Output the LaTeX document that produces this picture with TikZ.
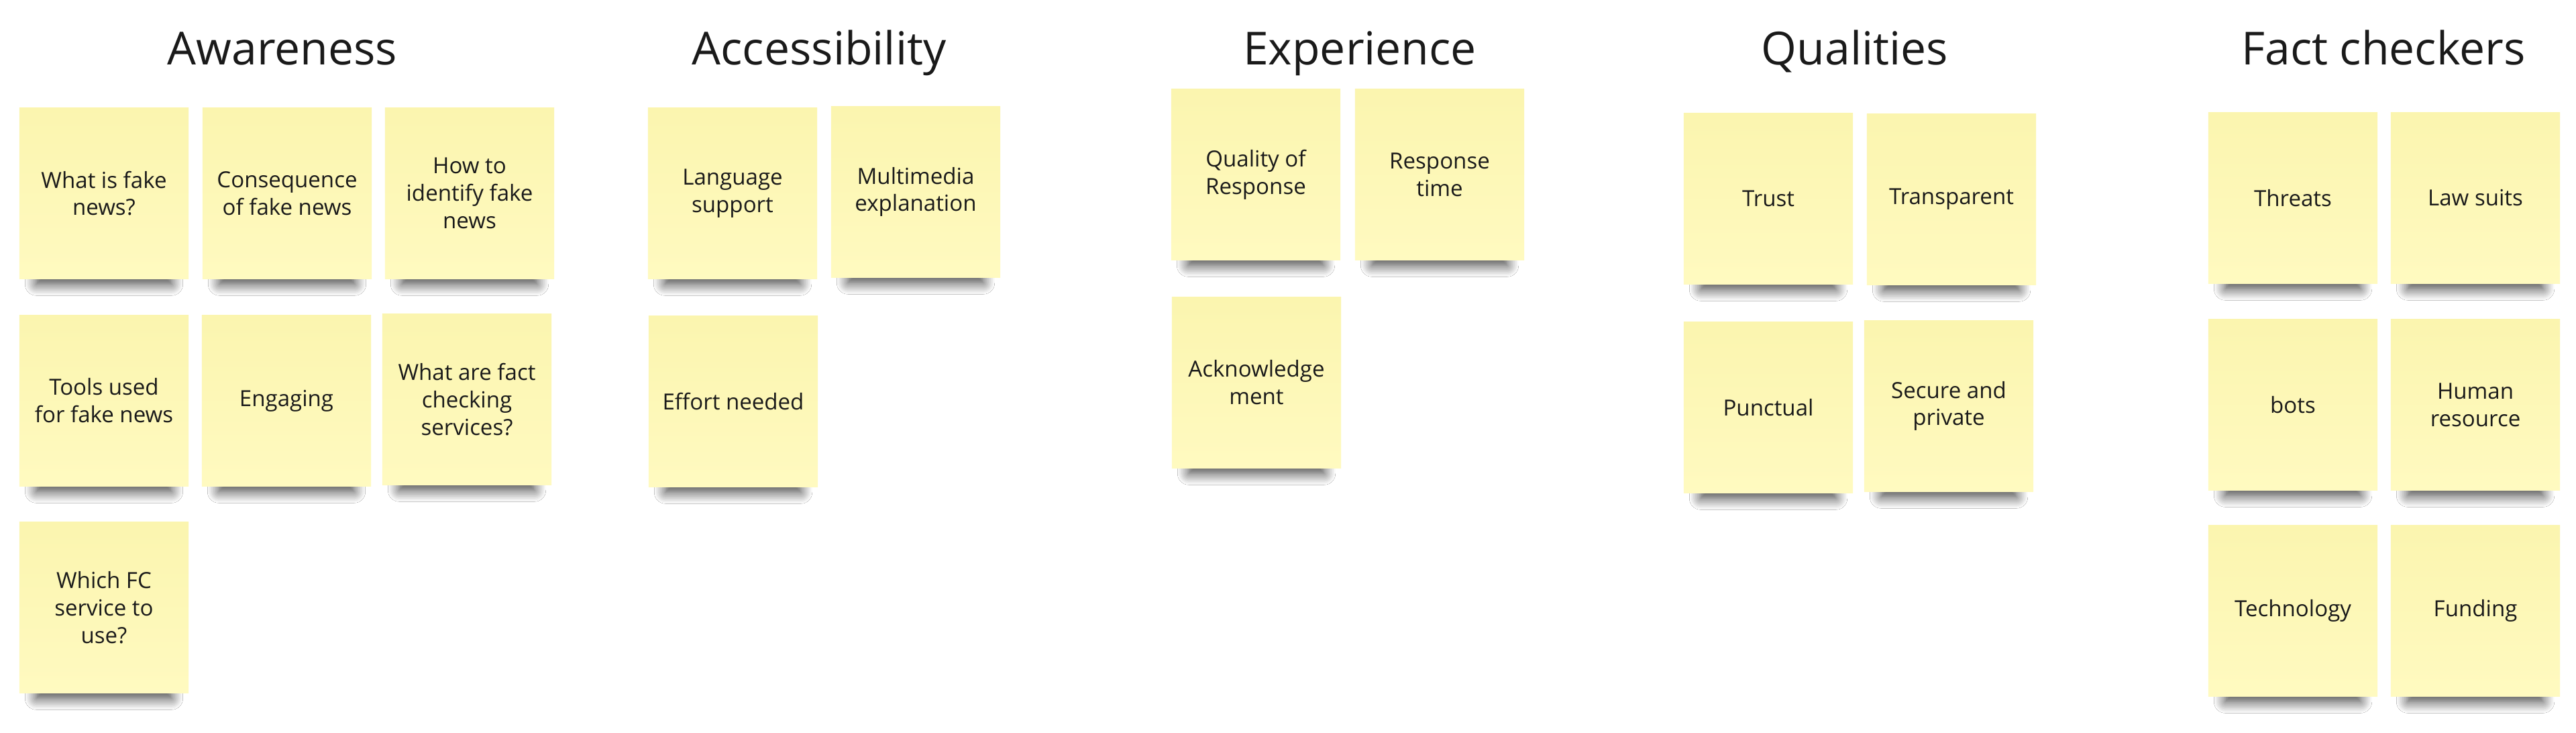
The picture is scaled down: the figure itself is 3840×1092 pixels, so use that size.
\documentclass[tikz,border=0pt]{standalone}
\usepackage{fontspec}
\setmainfont{Open Sans}
\usepackage{tikz}
\usetikzlibrary{positioning, shadows.blur}
\definecolor{stickytop}{RGB}{251,245,175}
\definecolor{stickybottom}{RGB}{255,250,192}
\definecolor{ink}{RGB}{26,26,26}
\tikzstyle{sticky} = [rectangle, draw=none, top color=stickytop,
                 bottom color=stickybottom, minimum width=2.52cm,
                 minimum height=2.54cm, align=center, text=ink,
                 font=\fontsize{9.4}{11.6}\selectfont,
                 blur shadow={shadow xshift=0pt, shadow yshift=-12pt,
                   shadow scale=0.8, shadow blur radius=6pt,
                   shadow blur steps=12, shadow opacity=75}]
\tikzset{
	heading/.style={anchor=base, text=ink,
		font=\fontsize{19.3}{23}\selectfont},
}

\begin{document}
\begin{tikzpicture}[x=0.01cm, y=-0.01cm]

\fill [white] (0,0) rectangle (3840,1092);
\useasboundingbox (0,0) rectangle (3840,1092);

	%headings
\foreach \x/\name/\title in {421/awareness/Awareness, 1221/access/Accessibility,
		2027/experience/Experience, 2765/qualities/Qualities, 3553/checkers/Fact checkers}
	\node [heading] (\name) at (\x,97) {\title};

	%awareness
\node [sticky] at (155,288) (what) {What is fake\\news?};
\node [sticky] at (428,288) (conseq) {Consequence\\of fake news};
\node [sticky] at (700,288) (identify) {How to\\identify fake\\news};
\node [sticky] at (155,597) (tools) {Tools used\\for fake news};
\node [sticky] at (427,597) (engaging) {Engaging};
\node [sticky] at (696,595) (services) {What are fact\\checking\\services?};
\node [sticky] at (155,905) (whichfc) {Which FC\\service to\\use?};

	%accessibility
\node [sticky] at (1092,288) (language) {Language\\support};
\node [sticky] at (1365,286) (multimedia) {Multimedia\\explanation};
\node [sticky] at (1093,598) (effort) {Effort needed};

	%experience
\node [sticky] at (1872,260) (quality) {Quality of\\Response};
\node [sticky] at (2146,260) (resptime) {Response\\time};
\node [sticky] at (1873,570) (ack) {Acknowledge\\ment};

	%qualities
\node [sticky] at (2636,296) (trust) {Trust};
\node [sticky] at (2909,297) (transp) {Transparent};
\node [sticky] at (2636,607) (punctual) {Punctual};
\node [sticky] at (2905,605) (secure) {Secure and\\private};

	%fact checkers
\node [sticky] at (3418,295) (threats) {Threats};
\node [sticky] at (3690,295) (lawsuits) {Law suits};
\node [sticky] at (3418,603) (bots) {bots};
\node [sticky] at (3690,603) (human) {Human\\resource};
\node [sticky] at (3418,910) (tech) {Technology};
\node [sticky] at (3690,910) (funding) {Funding};

\end{tikzpicture}
\end{document}
